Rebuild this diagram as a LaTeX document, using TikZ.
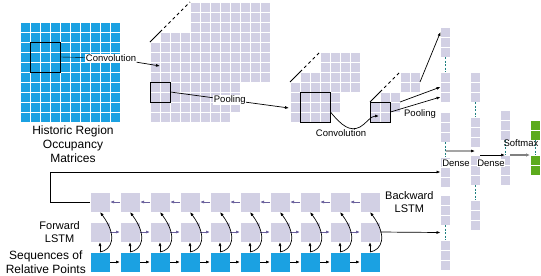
\documentclass[tikz,border=0pt]{standalone}
\usepackage{fontspec}
\setmainfont{Liberation Sans}
\usepackage{xcolor}
\usetikzlibrary{arrows.meta, positioning, calc}

\definecolor{cellgray}{RGB}{210,208,228}
\definecolor{occblue}{RGB}{27,161,226}
\definecolor{outgreen}{RGB}{92,171,28}
\definecolor{lstmpurple}{RGB}{105,95,155}
\definecolor{linkteal}{RGB}{30,128,128}

\begin{document}
\begin{tikzpicture}[
  x=1bp, y=-1bp,
  gcell/.style={rectangle, draw=white, line width=1bp, fill=cellgray,
                minimum size=10bp, inner sep=0pt, outer sep=0pt},
  occ/.style={gcell, fill=occblue},
  outcell/.style={gcell, fill=outgreen},
  lstm/.style={rectangle, draw=white, line width=1bp, fill=cellgray,
               minimum size=20bp, inner sep=0pt, outer sep=0pt},
  inp/.style={lstm, fill=occblue},
  kern/.style={rectangle, draw=black, line width=0.9bp, inner sep=0pt},
  lab/.style={font=\fontsize{9.5bp}{11bp}\selectfont, fill=white, inner sep=0.5bp},
  mtitle/.style={font=\fontsize{12bp}{14bp}\selectfont, align=center, inner sep=1bp},
  rowlab/.style={font=\fontsize{11bp}{13bp}\selectfont, align=center, inner sep=1bp},
  stackline/.style={line width=0.8bp},
  link/.style={linkteal, line width=0.8bp, dash pattern=on 2bp off 1.5bp},
  arr/.style={-{Latex[length=4bp, width=3bp]}, line width=0.7bp},
  parr/.style={arr, lstmpurple},
  sarr/.style={-{Latex[length=4bp, width=3.5bp]}, line width=1.6bp, gray}
]
\useasboundingbox (0,0) rectangle (541,275);

% ----- occupancy matrix -----
\foreach \i in {0,...,9}
  \foreach \j in {0,...,9}
    \node[occ] at (25+10*\i, 27+10*\j) {};
\node[kern, minimum size=30bp] (kern1) at (45,57) {};
\node[mtitle] (lhist) at (73,144) {Historic Region\\Occupancy\\Matrices};

% ----- feature maps -----
\foreach \ox/\oy/\n in {190/2/8, 160/32/8, 150/42/8,
                        320/52/4, 300/72/4, 290/82/4,
                        400/72/2, 380/92/2, 370/102/2}
  \foreach \i in {1,...,\n}
    \foreach \j in {1,...,\n}
      \node[gcell] at (\ox-5+10*\i, \oy-5+10*\j) {};

\draw[stackline] (150,42) -- (160,32);
\draw[stackline, dashed] (160,32) -- (190,2);
\draw[stackline] (290,82) -- (300,72);
\draw[stackline, dashed] (300,72) -- (320,52);
\draw[stackline] (370,102) -- (380,92);
\draw[stackline, dashed] (380,92) -- (400,72);

\node[kern, minimum size=20bp] (pool1) at (160,92) {};
\node[kern, minimum size=30bp] (kern2) at (315,107) {};
\node[kern, minimum size=20bp] (pool2) at (380,112) {};

\coordinate (c1in) at (160,66);
\coordinate (c2in) at (289,108);
\coordinate (c3in) at (379,116);
\coordinate (p3back) at (420,82);
\coordinate (p3mid) at (400,102);

\node[lab] (lconv1) at (111,58) {Convolution};
\node[lab, fill=none] (lconv2) at (341,133) {Convolution};
\node[lab, fill=none] (lpool2) at (420,114) {Pooling};

% ----- dense layers -----
\foreach \s/\top in {1/27, 2/72, 3/112, 4/157, 5/195, 6/240}
  \foreach \k in {1,2,3}
    \node[gcell] (a\s\k) at (445.5, \top-5+10*\k) {};
\foreach \s/\top in {1/72, 2/117, 3/155, 4/200}
  \foreach \k in {1,2,3}
    \node[gcell] (b\s\k) at (475, \top-5+10*\k) {};
\foreach \s/\top in {1/110, 2/155}
  \foreach \k in {1,2,3}
    \node[gcell] (c\s\k) at (505, \top-5+10*\k) {};
\foreach \s/\top in {1/120, 2/155}
  \foreach \k in {1,2}
    \node[outcell] (e\s\k) at (535, \top-5+10*\k) {};

\draw[link] (a13) -- (a21);
\draw[link] (a33) -- (a41);
\draw[link] (a53) -- (a61);
\draw[link] (b13) -- (b21);
\draw[link] (b33) -- (b41);
\draw[link] (c13) -- (c21);
\draw[link] (e12) -- (e21);

% ----- lstm -----
\foreach \i in {0,...,9} {
  \node[lstm] (b\i) at (100+30*\i, 202) {};
  \node[lstm] (f\i) at (100+30*\i, 232) {};
  \node[inp] (s\i) at (100+30*\i, 262) {};
}
\node[rowlab, right=4bp of b9] (lbwd) {Backward\\LSTM};
\node[rowlab, left=9bp of f0] (lfwd) {Forward\\LSTM};
\node[mtitle, inner sep=0pt, left=4bp of s0] (lseq) {Sequences of\\Relative Points};

% ----- arrows -----
\draw (kern1.east) -- (lconv1);
\draw[arr] (lconv1) -- (c1in);
\draw[arr] (pool1.east) -- node[lab]{Pooling} (c2in);
\draw[arr] (kern2.east |- pool2.center) .. controls (342,126) and (350,132) .. (360,127)
  .. controls (366,124) and (370,116) .. (c3in);
\draw[arr] (p3back) -- (a11.west);
\draw[arr] (p3mid) -- (a22.west);
\draw[arr] (pool2.east) -- (a23.west);

\draw[arr] ($(a33.south)!0.6!(a41.north)$) -- ($(b23.south)!0.5!(b31.north)$);
\draw[arr] (b31.north east) -- (c21.north);
\draw[sarr] (c21.north east) -- (e21.north west);

\foreach \i [count=\j] in {0,...,8} {
  \draw[parr] (b\j) -- (b\i);
  \draw[parr] (f\i) -- (f\j);
  \draw[arr] (s\i) -- (s\j);
}
\foreach \i in {0,...,9} {
  \draw[arr] (s\i) -- (f\i);
  \draw[arr] (s\i.north) .. controls +(12,-2) and +(18,24) .. (b\i.south);
}

\draw[arr] (b0.west) -- ++(-40,0) |- (a42.west);
\draw[arr] (f9.east) -- ($(a53.south west)!0.5!(a61.north west)$);

\node[lab] (ldense1) at (456,163) {Dense};
\node[lab] (ldense2) at (491,163) {Dense};
\node[lab, fill=none] (lsoft) at (521,143) {Softmax};

\end{tikzpicture}
\end{document}
